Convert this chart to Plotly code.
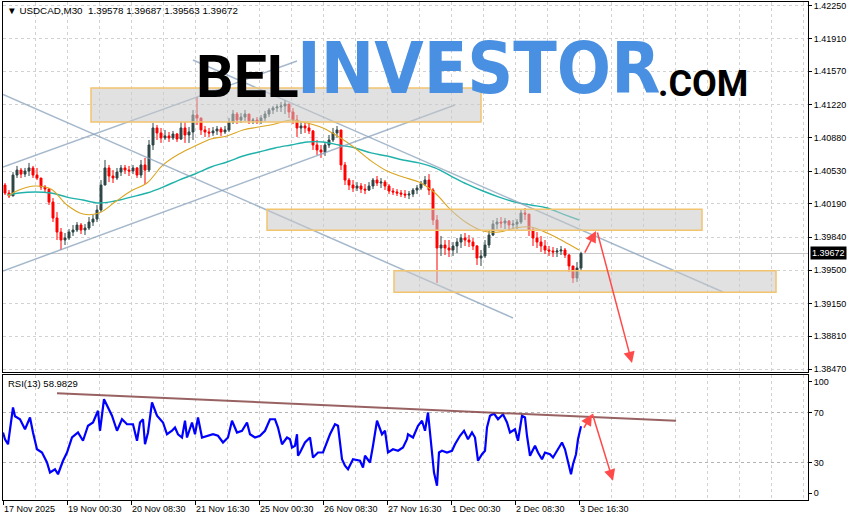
import plotly.graph_objects as go

# ---------------- data ----------------
symbol_title = "▼ USDCAD,M30  1.39578 1.39687 1.39563 1.39672"
rsi_title = "RSI(13) 58.9829"
last_price = 1.39672
first_open = 1.40384

price_ticks = [1.42250, 1.41910, 1.41570, 1.41220, 1.40880, 1.40530,
               1.40190, 1.39840, 1.39500, 1.39150, 1.38810, 1.38470]
price_tick_text = ["1.42250", "1.41910", "1.41570", "1.41220", "1.40880", "1.40530",
                   "1.40190", "1.39840", "1.39500", "1.39150", "1.38810", "1.38470"]
rsi_ticks = [94.8, 70, 30, 5.6]
rsi_tick_text = ["100", "70", "30", "0"]

time_labels = ["17 Nov 2025", "19 Nov 00:30", "20 Nov 08:30", "21 Nov 16:30", "25 Nov 00:30",
               "26 Nov 08:30", "27 Nov 16:30", "1 Dec 00:30", "2 Dec 08:30", "3 Dec 16:30"]
time_label_bars = [0, 64, 128, 192, 256, 320, 384, 448, 512, 576]

candle_high = [
    1.40405, 1.40332, 1.40519, 1.40583, 1.40562, 1.40562, 1.40614, 1.40583, 1.40562, 1.40457,
    1.40384, 1.40353, 1.40249, 1.40103, 1.39937, 1.39885, 1.39926, 1.39968, 1.39999, 1.39989,
    1.39978, 1.40051, 1.40072, 1.40176, 1.40436, 1.40645, 1.40593, 1.40540, 1.40562, 1.40593,
    1.40593, 1.40583, 1.40593, 1.40572, 1.40645, 1.40666, 1.40853, 1.41030, 1.41009, 1.40978,
    1.40957, 1.40936, 1.40947, 1.40926, 1.41040, 1.41040, 1.40988, 1.41165, 1.41300, 1.41082,
    1.40999, 1.40978, 1.40988, 1.40999, 1.40988, 1.40999, 1.41082, 1.41165, 1.41144, 1.41134,
    1.41165, 1.41123, 1.41082, 1.41092, 1.41113, 1.41155, 1.41186, 1.41207, 1.41227, 1.41248,
    1.41269, 1.41227, 1.41186, 1.41113, 1.41040, 1.41040, 1.41030, 1.40957, 1.40853, 1.40801,
    1.40832, 1.40905, 1.40978, 1.40999, 1.40957, 1.40624, 1.40457, 1.40436, 1.40415, 1.40405,
    1.40394, 1.40415, 1.40457, 1.40478, 1.40457, 1.40436, 1.40394, 1.40353, 1.40342, 1.40332,
    1.40332, 1.40322, 1.40353, 1.40384, 1.40426, 1.40478, 1.40498, 1.40353, 1.40072, 1.39854,
    1.39812, 1.39812, 1.39791, 1.39833, 1.39874, 1.39885, 1.39864, 1.39833, 1.39760, 1.39708,
    1.39812, 1.39916, 1.40020, 1.40041, 1.40051, 1.40041, 1.40020, 1.40020, 1.40030, 1.40134,
    1.40145, 1.40072, 1.39937, 1.39895, 1.39854, 1.39812, 1.39750, 1.39739, 1.39729, 1.39750,
    1.39729, 1.39666, 1.39542, 1.39583, 1.39690]
candle_low = [
    1.40280, 1.40249, 1.40270, 1.40457, 1.40457, 1.40467, 1.40478, 1.40457, 1.40436, 1.40332,
    1.40301, 1.40176, 1.39999, 1.39812, 1.39708, 1.39760, 1.39812, 1.39854, 1.39895, 1.39874,
    1.39864, 1.39916, 1.39958, 1.39999, 1.40103, 1.40384, 1.40415, 1.40405, 1.40436, 1.40478,
    1.40498, 1.40478, 1.40498, 1.40457, 1.40457, 1.40394, 1.40519, 1.40749, 1.40853, 1.40822,
    1.40853, 1.40832, 1.40853, 1.40832, 1.40853, 1.40822, 1.40822, 1.40853, 1.41009, 1.40905,
    1.40884, 1.40884, 1.40895, 1.40905, 1.40895, 1.40915, 1.40936, 1.41019, 1.41019, 1.41030,
    1.41051, 1.41019, 1.41019, 1.41019, 1.41019, 1.41051, 1.41092, 1.41123, 1.41144, 1.41144,
    1.41123, 1.41082, 1.41019, 1.40884, 1.40915, 1.40926, 1.40915, 1.40749, 1.40697, 1.40666,
    1.40687, 1.40770, 1.40832, 1.40874, 1.40540, 1.40384, 1.40332, 1.40312, 1.40322, 1.40301,
    1.40290, 1.40322, 1.40342, 1.40374, 1.40353, 1.40332, 1.40290, 1.40280, 1.40270, 1.40259,
    1.40249, 1.40238, 1.40259, 1.40290, 1.40332, 1.40374, 1.40280, 1.39968, 1.39365, 1.39646,
    1.39656, 1.39635, 1.39646, 1.39677, 1.39729, 1.39750, 1.39739, 1.39708, 1.39552, 1.39542,
    1.39625, 1.39729, 1.39854, 1.39926, 1.39937, 1.39926, 1.39916, 1.39926, 1.39926, 1.39978,
    1.40020, 1.39854, 1.39750, 1.39729, 1.39687, 1.39666, 1.39646, 1.39635, 1.39635, 1.39656,
    1.39625, 1.39479, 1.39365, 1.39375, 1.39500]
candle_close = [
    1.40301, 1.40270, 1.40488, 1.40540, 1.40498, 1.40530, 1.40562, 1.40488, 1.40457, 1.40363,
    1.40342, 1.40207, 1.40041, 1.39895, 1.39812, 1.39833, 1.39895, 1.39916, 1.39968, 1.39916,
    1.39937, 1.39999, 1.40030, 1.40124, 1.40384, 1.40562, 1.40478, 1.40457, 1.40519, 1.40562,
    1.40540, 1.40530, 1.40562, 1.40488, 1.40593, 1.40540, 1.40801, 1.40978, 1.40926, 1.40874,
    1.40895, 1.40874, 1.40915, 1.40863, 1.40978, 1.40905, 1.40936, 1.41113, 1.41082, 1.40957,
    1.40936, 1.40926, 1.40947, 1.40967, 1.40936, 1.40957, 1.41040, 1.41123, 1.41061, 1.41092,
    1.41123, 1.41051, 1.41061, 1.41040, 1.41082, 1.41123, 1.41165, 1.41186, 1.41196, 1.41207,
    1.41227, 1.41144, 1.41061, 1.40978, 1.40999, 1.40978, 1.40947, 1.40801, 1.40749, 1.40728,
    1.40801, 1.40853, 1.40926, 1.40957, 1.40593, 1.40436, 1.40384, 1.40353, 1.40374, 1.40342,
    1.40332, 1.40374, 1.40436, 1.40405, 1.40415, 1.40374, 1.40322, 1.40312, 1.40301, 1.40290,
    1.40280, 1.40290, 1.40332, 1.40353, 1.40394, 1.40436, 1.40332, 1.40020, 1.39729, 1.39760,
    1.39729, 1.39708, 1.39750, 1.39791, 1.39833, 1.39812, 1.39791, 1.39750, 1.39625, 1.39646,
    1.39760, 1.39864, 1.39978, 1.39999, 1.39989, 1.40010, 1.39968, 1.39978, 1.39999, 1.40093,
    1.40082, 1.39916, 1.39833, 1.39791, 1.39750, 1.39708, 1.39698, 1.39687, 1.39698, 1.39708,
    1.39656, 1.39542, 1.39417, 1.39521, 1.39672]
candle_open = [first_open] + candle_close[:-1]
candle_bars = list(range(2, 2 + 4 * len(candle_close), 4))   # each candle = 4 M30 bars

ma_bars = [5] + list(range(16, 577, 16))
ma_fast = [1.40270, 1.40332, 1.40374, 1.40342, 1.40176, 1.40082, 1.40093, 1.40207, 1.40322, 1.40405,
           1.40593, 1.40707, 1.40790, 1.40863, 1.40895, 1.40957, 1.40988, 1.41019, 1.41061, 1.41030,
           1.40978, 1.40884, 1.40770, 1.40635, 1.40530, 1.40467, 1.40415, 1.40301, 1.40124, 1.39989,
           1.39906, 1.39895, 1.39937, 1.39947, 1.39885, 1.39802, 1.39708]
ma_slow = [1.40280, 1.40301, 1.40312, 1.40301, 1.40259, 1.40228, 1.40197, 1.40218, 1.40259, 1.40301,
           1.40363, 1.40436, 1.40499, 1.40572, 1.40624, 1.40686, 1.40728, 1.40770, 1.40801, 1.40832,
           1.40832, 1.40801, 1.40770, 1.40718, 1.40686, 1.40645, 1.40614, 1.40562, 1.40478, 1.40394,
           1.40322, 1.40259, 1.40207, 1.40176, 1.40145, 1.40082, 1.40020]

rsi_bars = [0, 2, 5, 10, 12, 17, 22, 27, 30, 34, 39, 44, 47, 52, 55, 60, 64, 69, 75, 80,
            85, 90, 95, 97, 101, 105, 109, 114, 119, 124, 130, 134, 137, 140, 142, 145, 149, 154, 157, 160,
            164, 169, 172, 175, 179, 182, 184, 189, 192, 195, 199, 204, 210, 215, 220, 225, 229, 234, 239, 244,
            247, 252, 257, 262, 267, 272, 275, 279, 284, 287, 289, 292, 294, 295, 297, 302, 307, 310, 315, 320,
            324, 327, 332, 335, 339, 342, 345, 350, 357, 360, 362, 367, 370, 374, 379, 382, 385, 390, 395, 400,
            404, 405, 410, 415, 419, 422, 425, 429, 431, 434, 436, 439, 444, 449, 452, 457, 461, 465, 469, 472,
            475, 479, 482, 484, 487, 491, 495, 500, 504, 507, 512, 515, 519, 522, 524, 527, 532, 535, 539, 542,
            547, 550, 555, 559, 562, 565, 568, 570, 573, 575, 578]
rsi_values = [54, 48.6, 44.6, 74, 67, 64.6, 56.6, 66, 54, 40.6, 38, 30, 22, 24.6, 20.6, 31.4, 38, 50, 54, 47.4,
              59.4, 62, 71.4, 55.4, 80.6, 74, 67.4, 55.4, 64.6, 60.6, 60.6, 47.4, 62, 64.6, 44.6, 54, 78, 67.4, 64.6, 62,
              52.6, 55.4, 58, 52.6, 50, 63.4, 50, 62, 52.6, 66, 50, 51.4, 52.6, 51.4, 46, 50, 63.4, 54, 55.4, 62,
              52.6, 50, 51.4, 55.4, 64.6, 64.6, 58, 44.6, 50, 48.6, 42, 43.4, 52.6, 35.4, 38, 46, 50, 34, 38, 38,
              46, 52.6, 60.6, 59.4, 32.6, 27.4, 24.6, 32.6, 31.4, 26, 35.4, 30, 43.4, 63.4, 52.6, 55.4, 38, 40.6, 39.4, 42,
              48.6, 52.6, 50, 59.4, 63.4, 55.4, 70, 35.4, 22, 11.4, 38, 39.4, 38, 39.4, 44.6, 51.4, 55.4, 48.6, 54, 50,
              31.4, 36.6, 39.4, 58, 67.4, 69.2, 64.6, 68.6, 62, 54, 56.6, 47.4, 67.4, 66, 51.4, 35.4, 43.4, 38, 32.6, 38,
              36.6, 34, 40.6, 46, 40.6, 30, 20.6, 28.6, 36.6, 48.6, 58.98]

# analysis objects drawn on the chart (bar index, price / RSI value)
channel_lines = [((0, 1.41328), (510, 1.39001)),
                 ((190, 1.41685), (720, 1.39271)),
                 ((0, 1.40572), (294, 1.41675)),
                 ((0, 1.39490), (452, 1.41217))]
zones = [((88, 1.41394), (478, 1.41040)),
         ((264, 1.40131), (699, 1.39913)),
         ((391, 1.39493), (773, 1.39268))]
price_arrows = [((581, 1.39666), (593, 1.39906)),
                ((594, 1.39906), (629, 1.38533))]
rsi_trend = ((54, 85.4), (673, 63.4))
rsi_arrows = [((580, 56.6), (589, 68.6)),
              ((589, 70.0), (610, 15.4))]

# ---------------- figure ----------------
FONT = "Liberation Sans, Arial, DejaVu Sans, sans-serif"
GRID = "#d2d2d2"
DASH = "3px,3px"
minor_bars = list(range(32, 805, 32))

fig = go.Figure()
fig.add_trace(go.Candlestick(
    x=candle_bars, open=candle_open, high=candle_high, low=candle_low, close=candle_close,
    increasing=dict(line=dict(color="#2f4646", width=1), fillcolor="#2f4646"),
    decreasing=dict(line=dict(color="#ff0000", width=1), fillcolor="#ff0000"),
    whiskerwidth=0, xaxis="x", yaxis="y", showlegend=False, hoverinfo="skip"))
fig.add_trace(go.Scatter(x=ma_bars, y=ma_slow, mode="lines", xaxis="x", yaxis="y",
                         line=dict(color="#20b2aa", width=1.4, shape="spline"),
                         showlegend=False, hoverinfo="skip"))
fig.add_trace(go.Scatter(x=ma_bars, y=ma_fast, mode="lines", xaxis="x", yaxis="y",
                         line=dict(color="#daa520", width=1.1, shape="spline"),
                         showlegend=False, hoverinfo="skip"))
fig.add_trace(go.Scatter(x=rsi_bars, y=rsi_values, mode="lines", xaxis="x2", yaxis="y2",
                         line=dict(color="#0000ff", width=2.2),
                         showlegend=False, hoverinfo="skip"))

axis_common = dict(showline=True, mirror=True, linecolor="black", linewidth=1,
                   zeroline=False, fixedrange=True)

fig.update_layout(
    width=854, height=520,
    margin=dict(l=3, r=46, t=2, b=20, autoexpand=False),
    paper_bgcolor="white", plot_bgcolor="white",
    showlegend=False,
    xaxis=dict(domain=[0, 1], anchor="y", range=[0, 805], tickmode="array",
               tickvals=time_label_bars, showticklabels=False, ticks="",
               showgrid=True, gridcolor=GRID, griddash=DASH, gridwidth=1,
               minor=dict(tickvals=minor_bars, showgrid=True, gridcolor=GRID, griddash=DASH),
               rangeslider=dict(visible=False), **axis_common),
    xaxis2=dict(domain=[0, 1], anchor="y2", range=[0, 805], matches="x", tickmode="array",
                tickvals=time_label_bars, ticktext=time_labels, ticks="outside", ticklen=4,
                tickcolor="black", ticklabelposition="outside right",
                tickfont=dict(family=FONT, size=9, color="black"),
                showgrid=True, gridcolor=GRID, griddash=DASH, gridwidth=1,
                minor=dict(tickvals=minor_bars, showgrid=True, gridcolor=GRID, griddash=DASH),
                **axis_common),
    yaxis=dict(domain=[0.2570, 1], anchor="x", side="right", range=[1.384387, 1.422885],
               tickmode="array", tickvals=price_ticks, ticktext=price_tick_text,
               ticks="outside", ticklen=3, tickcolor="black",
               tickfont=dict(family=FONT, size=9, color="black"),
               showgrid=True, gridcolor=GRID, griddash=DASH, gridwidth=1, **axis_common),
    yaxis2=dict(domain=[0, 0.2510], anchor="x2", side="right", range=[0, 100],
                tickmode="array", tickvals=rsi_ticks, ticktext=rsi_tick_text,
                ticks="outside", ticklen=3, tickcolor="black",
                tickfont=dict(family=FONT, size=9, color="black"),
                showgrid=False, **axis_common),
)

shapes = []
for (x0, y0), (x1, y1) in channel_lines:
    shapes.append(dict(type="line", xref="x", yref="y", x0=x0, y0=y0, x1=x1, y1=y1,
                       line=dict(color="rgba(135,160,185,0.75)", width=1.5), layer="above"))
for (x0, y0), (x1, y1) in zones:
    shapes.append(dict(type="rect", xref="x", yref="y", x0=x0, y0=y0, x1=x1, y1=y1,
                       fillcolor="rgba(200,200,200,0.55)",
                       line=dict(color="#f2c46d", width=1.5), layer="above"))
shapes.append(dict(type="line", xref="paper", yref="y", x0=0, x1=1, y0=last_price, y1=last_price,
                   line=dict(color="#c8c8c8", width=1), layer="between"))
for lv in (70, 30):
    shapes.append(dict(type="line", xref="paper", yref="y2", x0=0, x1=1, y0=lv, y1=lv,
                       line=dict(color="#b4b4b4", width=1, dash=DASH), layer="between"))
(tx0, ty0), (tx1, ty1) = rsi_trend
shapes.append(dict(type="line", xref="x2", yref="y2", x0=tx0, y0=ty0, x1=tx1, y1=ty1,
                   line=dict(color="rgba(135,70,70,0.85)", width=2), layer="above"))
fig.update_layout(shapes=shapes)

ann = []
for (x0, y0), (x1, y1) in price_arrows:
    ann.append(dict(xref="x", yref="y", axref="x", ayref="y", x=x1, y=y1, ax=x0, ay=y0,
                    text="", showarrow=True, arrowhead=2, arrowsize=1.5, arrowwidth=1.5,
                    arrowcolor="#ff4a4a", standoff=0, startstandoff=0))
for (x0, y0), (x1, y1) in rsi_arrows:
    ann.append(dict(xref="x2", yref="y2", axref="x2", ayref="y2", x=x1, y=y1, ax=x0, ay=y0,
                    text="", showarrow=True, arrowhead=2, arrowsize=1.5, arrowwidth=1.5,
                    arrowcolor="#ff4a4a", standoff=0, startstandoff=0))
# titles
ann.append(dict(xref="paper", yref="paper", x=0.0025, y=0.982, xanchor="left", yanchor="middle",
                text=symbol_title, showarrow=False,
                font=dict(family=FONT, size=9.8, color="black")))
ann.append(dict(xref="paper", yref="paper", x=0.004, y=0.233, xanchor="left", yanchor="middle",
                text=rsi_title, showarrow=False,
                font=dict(family=FONT, size=9.5, color="black")))
# current price tag
ann.append(dict(xref="paper", yref="y", x=1, y=last_price, xanchor="left", yanchor="middle",
                xshift=2, text=f"{last_price:.5f}", showarrow=False, bgcolor="black",
                borderpad=1, font=dict(family=FONT, size=9, color="white")))
# watermark logo
ann.append(dict(xref="paper", yref="paper", x=0.3040, y=0.851, xanchor="center", yanchor="middle",
                text="<b>BEL</b>", showarrow=False,
                font=dict(family="Roboto, Liberation Sans, sans-serif", size=59, color="black")))
ann.append(dict(xref="paper", yref="paper", x=0.5907, y=0.8655, xanchor="center", yanchor="middle",
                text="<b>INVESTOR</b>", showarrow=False,
                font=dict(family="DejaVu Sans Condensed, Roboto, sans-serif", size=71, color="#4a90e2")))
ann.append(dict(xref="paper", yref="paper", x=0.8695, y=0.8363, xanchor="center", yanchor="middle",
                text="<b>.COM</b>", showarrow=False,
                font=dict(family="Roboto, Liberation Sans, sans-serif", size=36, color="black")))
fig.update_layout(annotations=ann)

fig.write_html("out.html", config={"displayModeBar": False},
               post_script="document.body.style.margin='0';")
